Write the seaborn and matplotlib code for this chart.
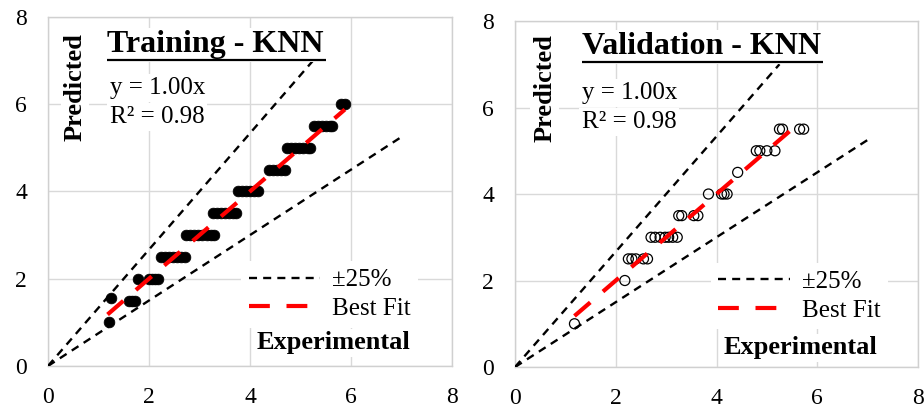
import matplotlib
matplotlib.use("Agg")
import matplotlib.pyplot as plt
import pandas as pd
import seaborn as sns

# ---- data -------------------------------------------------------------
train_exp = [1.20,
             1.25, 1.60, 1.66, 1.72,
             1.78, 2.00, 2.06, 2.12, 2.18,
             2.24, 2.32, 2.40, 2.48, 2.56, 2.64, 2.72,
             2.74, 2.82, 2.90, 2.98, 3.06, 3.14, 3.22, 3.28,
             3.26, 3.34, 3.42, 3.50, 3.58, 3.66, 3.72,
             3.76, 3.84, 3.92, 4.00, 4.08, 4.16,
             4.38, 4.46, 4.54, 4.62, 4.70,
             4.74, 4.82, 4.90, 4.98, 5.06, 5.14, 5.18,
             5.27, 5.35, 5.43, 5.51, 5.59, 5.63,
             5.80, 5.88]
train_pred = [1.00,
              1.55, 1.50, 1.50, 1.50,
              2.00, 2.00, 2.00, 2.00, 2.00,
              2.50, 2.50, 2.50, 2.50, 2.50, 2.50, 2.50,
              3.00, 3.00, 3.00, 3.00, 3.00, 3.00, 3.00, 3.00,
              3.50, 3.50, 3.50, 3.50, 3.50, 3.50, 3.50,
              4.00, 4.00, 4.00, 4.00, 4.00, 4.00,
              4.50, 4.50, 4.50, 4.50, 4.50,
              5.00, 5.00, 5.00, 5.00, 5.00, 5.00, 5.00,
              5.50, 5.50, 5.50, 5.50, 5.50, 5.50,
              6.00, 6.00]

val_exp = [1.18, 2.18,
           2.25, 2.32, 2.40, 2.55, 2.63,
           2.70, 2.78, 2.88, 2.98, 3.05, 3.13, 3.22,
           3.25, 3.31, 3.55, 3.63,
           3.84, 4.10, 4.15, 4.21,
           4.42,
           4.79, 4.86, 5.00, 5.16,
           5.25, 5.31, 5.65, 5.73]
val_pred = [1.00, 2.00,
            2.50, 2.50, 2.50, 2.50, 2.50,
            3.00, 3.00, 3.00, 3.00, 3.00, 3.00, 3.00,
            3.50, 3.50, 3.50, 3.50,
            4.00, 4.00, 4.00, 4.00,
            4.50,
            5.00, 5.00, 5.00, 5.00,
            5.50, 5.50, 5.50, 5.50]

# best-fit line y = 1.00x over the fitted range
fit_slope = 1.00
train_fit_x = [1.18, 5.88]
val_fit_x = [1.18, 5.58]

# +/-25% envelope
upper_x, upper_y = [0.0, 5.25], [0.0, 7.0]
lower_x, lower_y = [0.0, 7.0], [0.0, 5.25]

ticks = [0, 2, 4, 6, 8]
tick_labels = ["0", "2", "4", "6", "8"]

# ---- style ------------------------------------------------------------
sns.set_style("white")
plt.rcParams["font.family"] = ["Liberation Serif", "DejaVu Serif"]
for key in ("text.color", "axes.labelcolor", "xtick.color", "ytick.color"):
    plt.rcParams[key] = "black"

fig = plt.figure(figsize=(9.24, 4.12), dpi=100)
ax_train = fig.add_axes([0.0519, 0.1117, 0.4372, 0.8471])
ax_val = fig.add_axes([0.5574, 0.1092, 0.4361, 0.8398])

GRID = "#d9d9d9"
white_box = dict(facecolor="white", edgecolor="none", pad=2)


def draw_panel(ax, exp, pred, fit_x, title, filled, layout):
    ax.set_xlim(0, 8)
    ax.set_ylim(0, 8)
    ax.set_xticks(ticks)
    ax.set_yticks(ticks)
    ax.set_xticklabels(tick_labels)
    ax.set_yticklabels(tick_labels)
    ax.tick_params(length=0, labelsize=17, pad=15, labelcolor="black")
    ax.grid(True, color=GRID, lw=1.0, zorder=0)
    ax.set_axisbelow(True)
    for s in ax.spines.values():
        s.set_color("#d0d0d0")
        s.set_linewidth(1.0)

    df = pd.DataFrame({"Experimental": exp, "Predicted": pred})
    if filled:
        sns.scatterplot(data=df, x="Experimental", y="Predicted", ax=ax,
                        color="black", edgecolor="black", s=60, linewidth=0.5,
                        zorder=3, legend=False)
    else:
        sns.scatterplot(data=df, x="Experimental", y="Predicted", ax=ax,
                        facecolor="none", edgecolor="black", s=52, linewidth=0.9,
                        zorder=3, legend=False)

    sns.lineplot(x=upper_x, y=upper_y, ax=ax, color="black", lw=1.7,
                 linestyle=(0, (3.4, 2.6)), label="±25%", zorder=4)
    sns.lineplot(x=lower_x, y=lower_y, ax=ax, color="black", lw=1.7,
                 linestyle=(0, (3.4, 2.6)), label="_lower", zorder=4)
    fit_y = [fit_slope * v for v in fit_x]
    sns.lineplot(x=fit_x, y=fit_y, ax=ax, color="#ff0000", lw=3.0,
                 linestyle=(0, (5, 4)), label="Best Fit", zorder=5)

    ax.set_xlabel("")
    ax.set_ylabel("")

    handles, labels = ax.get_legend_handles_labels()
    keep = [(h, l) for h, l in zip(handles, labels) if not l.startswith("_")]
    ax.legend([h for h, _ in keep], [l for _, l in keep],
              loc="upper left", bbox_to_anchor=layout["legend"],
              fontsize=18, frameon=True, facecolor="white", edgecolor="none",
              framealpha=1.0, fancybox=False, handlelength=2.85,
              handletextpad=0.5, labelspacing=0.25, borderpad=0.3,
              borderaxespad=0.0)

    ax.text(layout["title"][0], layout["title"][1], title,
            transform=ax.transAxes, fontsize=23, fontweight="bold",
            ha="left", va="center", bbox=white_box, zorder=6)
    ux0, ux1, uy = layout["underline"]
    ax.plot([ux0, ux1], [uy, uy], transform=ax.transAxes, color="black",
            lw=1.6, zorder=7, solid_capstyle="butt")

    ax.text(layout["eq"][0], layout["eq"][1], "y = 1.00x",
            transform=ax.transAxes, fontsize=18, ha="left", va="center",
            bbox=white_box, zorder=6)
    ax.text(layout["eq"][0], layout["eq"][2], "R² = 0.98",
            transform=ax.transAxes, fontsize=18, ha="left", va="center",
            bbox=white_box, zorder=6)
    ax.text(layout["ylab"][0], layout["ylab"][1], "Predicted",
            transform=ax.transAxes, fontsize=19, fontweight="bold",
            rotation=90, ha="center", va="center", bbox=white_box, zorder=6)
    ax.text(layout["xlab"][0], layout["xlab"][1], "Experimental",
            transform=ax.transAxes, fontsize=19, fontweight="bold",
            ha="right", va="center", bbox=white_box, zorder=6)


train_layout = {
    "title": (0.146, 0.920),
    "underline": (0.146, 0.688, 0.877),
    "eq": (0.153, 0.797, 0.713),
    "ylab": (0.067, 0.80),
    "legend": (0.478, 0.30),
    "xlab": (0.896, 0.066),
}
val_layout = {
    "title": (0.166, 0.925),
    "underline": (0.166, 0.764, 0.881),
    "eq": (0.166, 0.792, 0.708),
    "ylab": (0.074, 0.806),
    "legend": (0.486, 0.30),
    "xlab": (0.898, 0.055),
}

draw_panel(ax_train, train_exp, train_pred, train_fit_x,
           "Training - KNN", True, train_layout)
draw_panel(ax_val, val_exp, val_pred, val_fit_x,
           "Validation - KNN", False, val_layout)

fig.savefig("out.png", dpi=100)
